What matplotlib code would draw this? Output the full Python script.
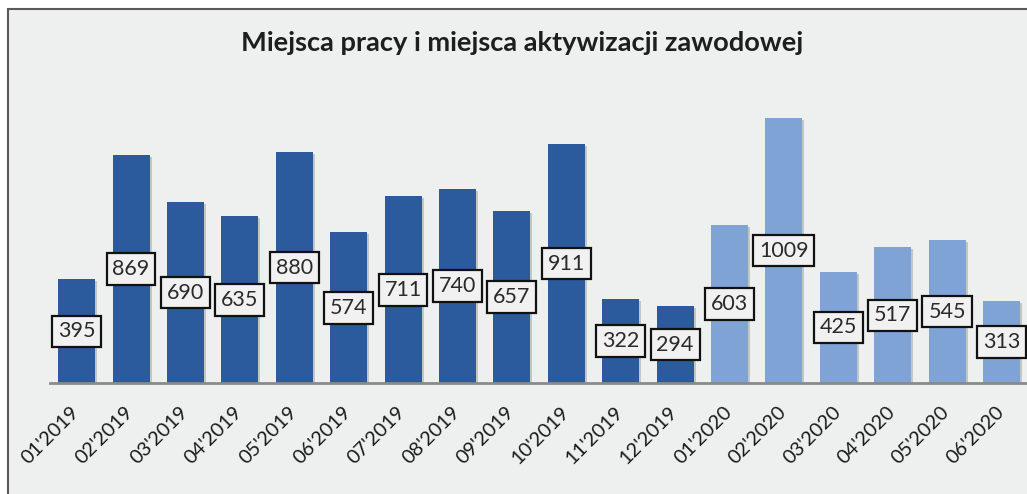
import matplotlib
matplotlib.use("Agg")
import matplotlib.pyplot as plt
from matplotlib.patches import Rectangle
from matplotlib.transforms import ScaledTranslation
import matplotlib.patheffects as pe

months = ["01'2019", "02'2019", "03'2019", "04'2019", "05'2019", "06'2019",
          "07'2019", "08'2019", "09'2019", "10'2019", "11'2019", "12'2019",
          "01'2020", "02'2020", "03'2020", "04'2020", "05'2020", "06'2020"]
values = [395, 869, 690, 635, 880, 574, 711, 740, 657, 911, 322, 294,
          603, 1009, 425, 517, 545, 313]
years = [m[-4:] for m in months]

title = "Miejsca pracy i miejsca aktywizacji zawodowej"
color_map = {"2019": "#2b5b9d", "2020": "#80a3d6"}

plt.rcParams['font.family'] = ['Lato', 'DejaVu Sans']

W, H = 1027, 494
fig = plt.figure(figsize=(W / 100, H / 100), dpi=100)
fig.patch.set_facecolor("white")
bg = Rectangle((8 / W, -0.05), 1.1, (494 - 9) / H + 0.05,
               transform=fig.transFigure, facecolor="#eeefef",
               edgecolor="#5a5a5a", linewidth=1.5, zorder=-10)
fig.patches.append(bg)

ax = fig.add_axes([50 / W, 110.7 / H, 977 / W, 289.3 / H])
ax.set_zorder(5)
ax.set_facecolor("none")
x = list(range(len(months)))
bars = ax.bar(x, values, width=0.68, color=[color_map[y] for y in years], zorder=2)
for b in bars:
    b.set_path_effects([pe.SimplePatchShadow(offset=(1.5, -1.5), shadow_rgbFace="#777777", alpha=0.35), pe.Normal()])

ax.set_xlim(-0.49, 17.47)
ax.set_ylim(0, 1100)
for xi, v in zip(x, values):
    ax.text(xi, v / 2, str(v), ha="center", va="center", fontsize=15.5, color="#2a2a2a",
            zorder=4,
            bbox=dict(boxstyle="square,pad=0.27", facecolor="#f1f1f1", edgecolor="#111111", linewidth=1.6))

for s in ["top", "right", "left"]:
    ax.spines[s].set_visible(False)
ax.spines["bottom"].set_color("#8a8a8a")
ax.spines["bottom"].set_linewidth(2)
ax.spines["bottom"].set_zorder(3)
ax.set_yticks([])
ax.set_xticks(x)
ax.set_xticklabels(months, rotation=45, ha="right", va="baseline", rotation_mode="anchor",
                   fontsize=14.3, color="#1a1a1a")
ax.tick_params(axis="x", length=0, pad=21.5)
shift = ScaledTranslation(3.5 / 100, 0, fig.dpi_scale_trans)
for lab in ax.get_xticklabels():
    lab.set_transform(lab.get_transform() + shift)

fig.text(522 / W, 1 - 43 / H, title, ha="center", va="center", fontsize=19.6,
         fontweight="bold", color="#1e1e1e")

fig.savefig("out.png", dpi=100, facecolor=fig.get_facecolor())
